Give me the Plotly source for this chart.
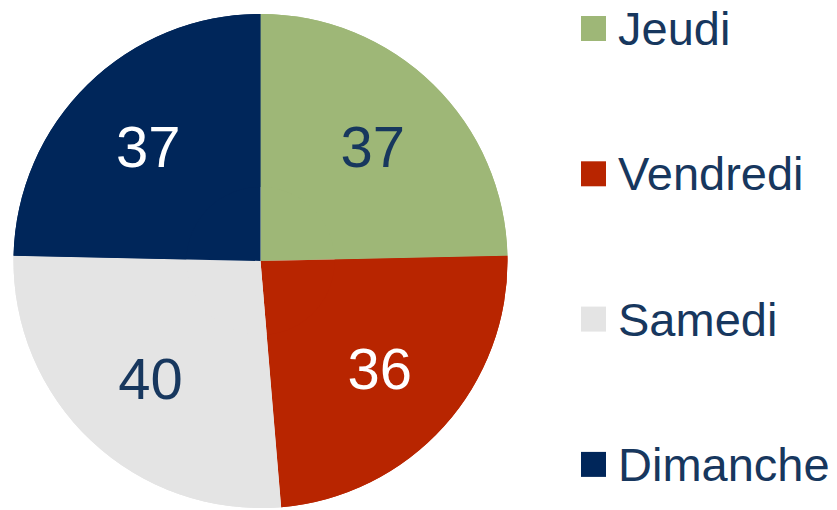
import plotly.graph_objects as go

labels = ["Jeudi", "Vendredi", "Samedi", "Dimanche"]
values = [37, 36, 40, 37]
colors = ["#9EB777", "#B82500", "#E4E4E4", "#00265A"]
text_colors = ["#17375E", "#FFFFFF", "#17375E", "#FFFFFF"]

# page body has an 8px margin; figure is sized to fit the 837x510 window
OFF = 8
W, H = 837 - OFF, 510 - OFF
FONT = "Liberation Sans, Arial, sans-serif"
NAVY = "#17375E"


def px(x):
    return (x - OFF) / W


def py(y):
    return 1 - (y - OFF) / H


pie_domain = dict(x=[px(13), px(508)], y=[py(508), py(14)])

fig = go.Figure()
# base full pie (colors only)
fig.add_trace(go.Pie(
    labels=labels, values=values, sort=False, direction="clockwise", rotation=0,
    marker=dict(colors=colors, line=dict(width=0)),
    textinfo="none", domain=pie_domain, showlegend=False,
    hoverinfo="label+value",
))
# ring on top carrying the value labels (pushes text outward)
fig.add_trace(go.Pie(
    labels=labels, values=values, sort=False, direction="clockwise", rotation=0,
    hole=0.3,
    marker=dict(colors=colors, line=dict(width=0)),
    textinfo="value", textposition="inside",
    insidetextorientation="horizontal",
    textfont=dict(family=FONT, size=58, color=text_colors),
    domain=pie_domain, showlegend=False,
    hoverinfo="label+value",
))

shapes = []
annotations = []
for i, (lab, col) in enumerate(zip(labels, colors)):
    yc = 28.5 + i * 145.3
    shapes.append(dict(
        type="rect", xref="paper", yref="paper",
        x0=px(581), x1=px(606),
        y0=py(yc + 12.5), y1=py(yc - 12.5),
        fillcolor=col, line=dict(width=0),
    ))
    annotations.append(dict(
        text=lab, xref="paper", yref="paper",
        x=px(616), y=py(yc), xanchor="left", yanchor="middle",
        showarrow=False, font=dict(family=FONT, size=47, color=NAVY),
    ))

fig.update_layout(
    width=W, height=H,
    margin=dict(l=0, r=0, t=0, b=0),
    paper_bgcolor="white", plot_bgcolor="white",
    shapes=shapes, annotations=annotations,
)

fig.write_html("out.html")
